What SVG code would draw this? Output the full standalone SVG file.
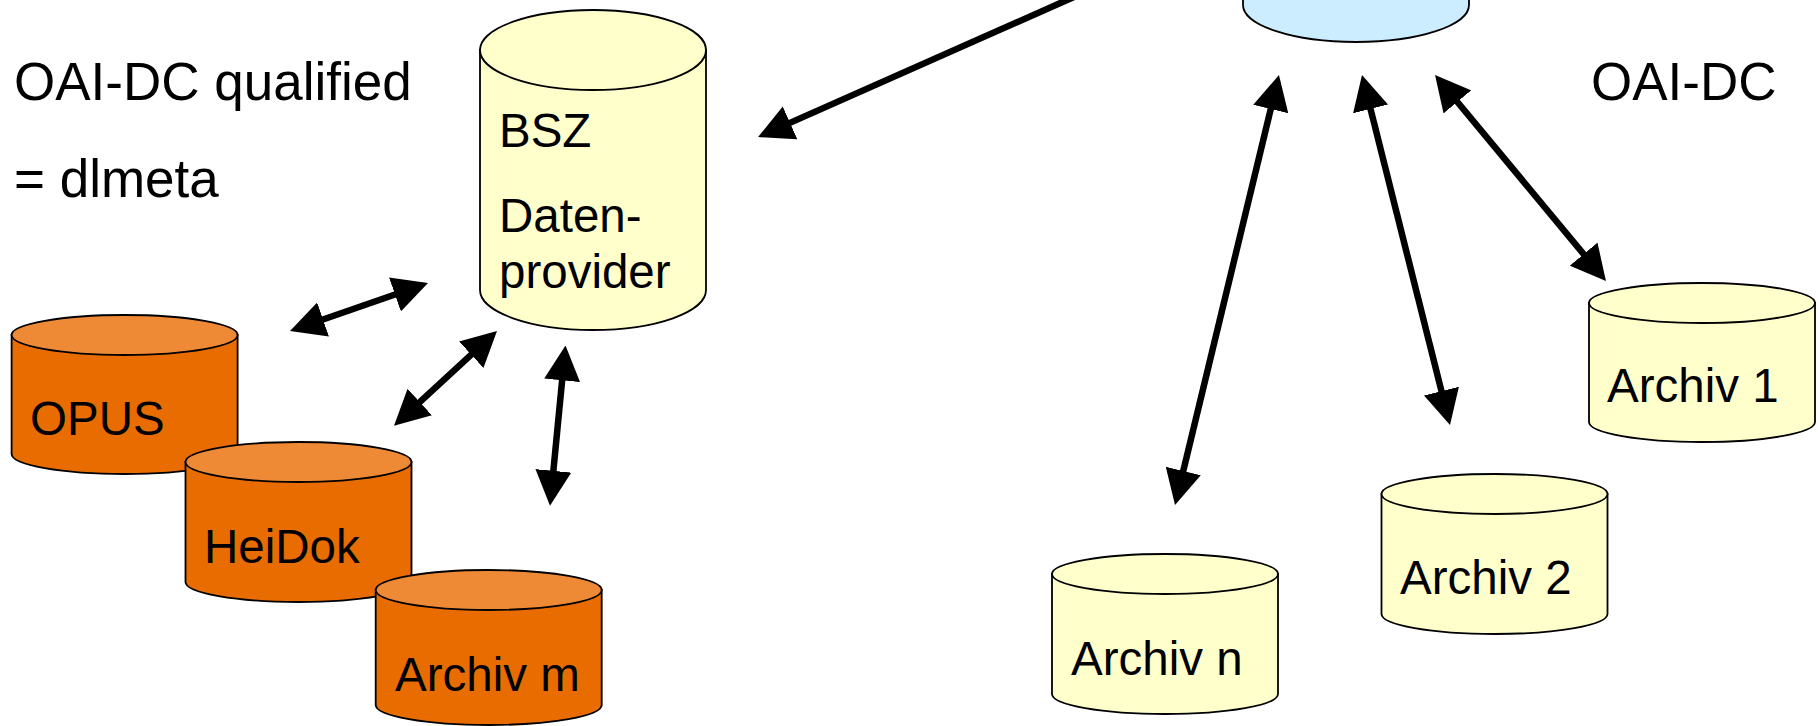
<svg xmlns="http://www.w3.org/2000/svg" width="1818" height="726" viewBox="0 0 1818 726">
<defs>
<style>
.cyl{stroke:#000;stroke-width:1.8}
.yel{fill:#FFFFCC}
.blu{fill:#CCECFF}
.org{fill:#E86C00}
.orgtop{fill:#EE8A36}
.lbl{font-family:"Liberation Sans",Arial,sans-serif;font-size:47.5px;fill:#000}
.big{font-family:"Liberation Sans",Arial,sans-serif;font-size:53px;fill:#000}
.conn{stroke:#000;stroke-width:6.5;fill:none}
</style>
<marker id="ah" markerUnits="userSpaceOnUse" markerWidth="35" markerHeight="36" viewBox="0 0 35 36" refX="10" refY="18" orient="auto-start-reverse">
<path d="M0,0 L35,18 L0,36 Z" fill="#000"/>
</marker>
</defs>
<rect width="1818" height="726" fill="#fff"/>

<text class="big" x="14" y="100">OAI-DC qualified</text>
<text class="big" x="14" y="197">= dlmeta</text>
<text class="big" x="1591" y="100">OAI-DC</text>

<g id="server">
<path class="cyl blu" d="M1243,-10 L1243,5 A113,37 0 0 0 1469,5 L1469,-10 Z"/>
</g>

<g id="bsz">
<path class="cyl yel" d="M480,50 L480,290 A113,40 0 0 0 706,290 L706,50 Z"/>
<ellipse class="cyl yel" cx="593" cy="50" rx="113" ry="40"/>
<text class="lbl" x="499" y="147">BSZ</text>
<text class="lbl" x="499" y="232">Daten-</text>
<text class="lbl" x="499" y="288">provider</text>
</g>

<g id="opus">
<path class="cyl org" d="M11.6,335 L11.6,454 A113,20 0 0 0 237.6,454 L237.6,335 Z"/>
<ellipse class="cyl orgtop" cx="124.6" cy="335" rx="113" ry="20"/>
<text class="lbl" x="30" y="435">OPUS</text>
</g>

<g id="heidok">
<path class="cyl org" d="M185.5,462 L185.5,582 A113,20 0 0 0 411.5,582 L411.5,462 Z"/>
<ellipse class="cyl orgtop" cx="298.5" cy="462" rx="113" ry="20"/>
<text class="lbl" x="204" y="563">HeiDok</text>
</g>

<g id="archivm">
<path class="cyl org" d="M375.7,590 L375.7,705 A113,20 0 0 0 601.7,705 L601.7,590 Z"/>
<ellipse class="cyl orgtop" cx="488.7" cy="590" rx="113" ry="20"/>
<text class="lbl" x="395" y="691">Archiv m</text>
</g>

<g id="archiv1">
<path class="cyl yel" d="M1589,303 L1589,422 A113,20 0 0 0 1815,422 L1815,303 Z"/>
<ellipse class="cyl yel" cx="1702" cy="303" rx="113" ry="20"/>
<text class="lbl" x="1607" y="402">Archiv 1</text>
</g>

<g id="archiv2">
<path class="cyl yel" d="M1381.5,494 L1381.5,614 A113,20 0 0 0 1607.5,614 L1607.5,494 Z"/>
<ellipse class="cyl yel" cx="1494.5" cy="494" rx="113" ry="20"/>
<text class="lbl" x="1400" y="594">Archiv 2</text>
</g>

<g id="archivn">
<path class="cyl yel" d="M1052,574 L1052,694 A113,20 0 0 0 1278,694 L1278,574 Z"/>
<ellipse class="cyl yel" cx="1165" cy="574" rx="113" ry="20"/>
<text class="lbl" x="1071" y="675">Archiv n</text>
</g>

<g id="connectors">
<line class="conn" x1="1101" y1="-15" x2="780.9" y2="126.9" marker-end="url(#ah)"/>
<line class="conn" x1="313.6" y1="322.8" x2="404.4" y2="291.2" marker-start="url(#ah)" marker-end="url(#ah)"/>
<line class="conn" x1="412.4" y1="408.8" x2="478.6" y2="347.9" marker-start="url(#ah)" marker-end="url(#ah)"/>
<line class="conn" x1="552.4" y1="480.8" x2="563.1" y2="370.4" marker-start="url(#ah)" marker-end="url(#ah)"/>
<line class="conn" x1="1180.9" y1="480.7" x2="1273.1" y2="99.3" marker-start="url(#ah)" marker-end="url(#ah)"/>
<line class="conn" x1="1443.9" y1="400.8" x2="1368.1" y2="99.2" marker-start="url(#ah)" marker-end="url(#ah)"/>
<line class="conn" x1="1590" y1="261.8" x2="1451" y2="94.2" marker-start="url(#ah)" marker-end="url(#ah)"/>
</g>
</svg>
